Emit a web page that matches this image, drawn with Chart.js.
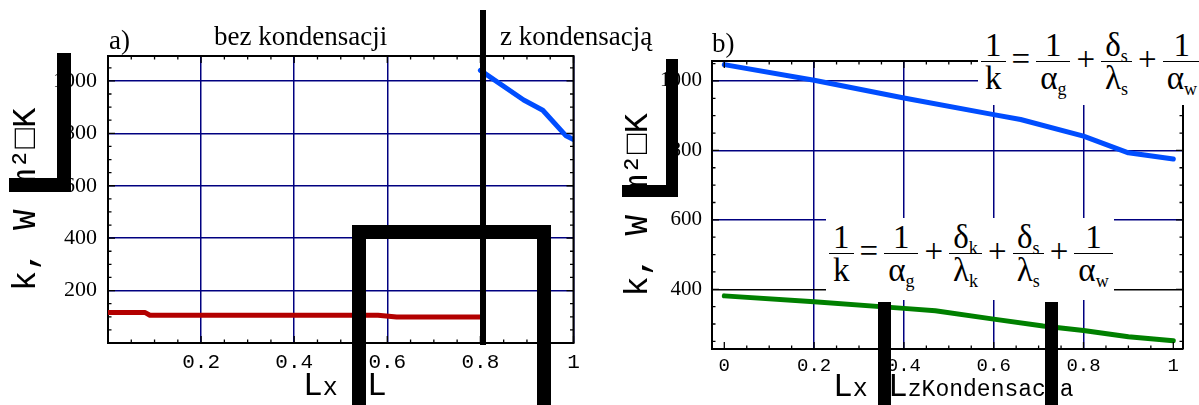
<!DOCTYPE html>
<html>
<head>
<meta charset="utf-8">
<script src="https://cdn.jsdelivr.net/npm/chart.js@4"></script>
<style>
  body { margin: 0; background: #fff; }
  #page { position: relative; width: 1199px; height: 405px; overflow: hidden; background: #fff; }
  canvas { position: absolute; top: 0; }
  .txt { position: absolute; white-space: nowrap; color: #000; line-height: normal; }
  .serif { font-family: 'Liberation Serif', serif; }
  .mono { font-family: 'Liberation Mono', monospace; }
  .blk { position: absolute; background: #000; }
  .formula { position: absolute; background: #fff; display: flex; align-items: flex-start;
             font-family: 'Liberation Serif', serif; font-size: 33px; color: #000; box-sizing: border-box; }
  .frac { display: inline-flex; flex-direction: column; text-align: center; }
  .frac span { display: block; line-height: 32px; padding: 0 4px; }
  .frac span:first-child { border-bottom: 1.5px solid #000; }
  .op { line-height: 60px; padding: 0 6px; }
  .formula sub { font-size: 18px; position: relative; top: 6px; vertical-align: baseline; line-height: 0; }
</style>
</head>
<body>
<div id="page">
  <canvas id="chartA" width="600" height="405" style="left:0"></canvas>
  <canvas id="chartB" width="599" height="405" style="left:600px"></canvas>

  <div class="txt serif" style="left:109px; top:25px; font-size:27px">a)</div>
  <div class="txt serif" style="left:214px; top:21px; font-size:27px">bez kondensacji</div>
  <div class="txt serif" style="left:500px; top:21px; font-size:27px">z kondensacją</div>
  <div class="txt serif" style="left:712px; top:28px; font-size:27px">b)</div>

  <div class="txt mono" style="left:303px; top:368px; font-size:33px">L<span style="font-size:25px">x</span></div>
  <div class="txt mono" style="left:367px; top:368px; font-size:33px">L</div>
  <div class="txt mono" style="left:833px; top:369px; font-size:33px">L<span style="font-size:25px">x</span></div>
  <div class="txt mono" style="left:888px; top:369px; font-size:33px">L<span style="font-size:23px">zKondensacja</span></div>

  <div class="formula" style="left:978px; top:15px; width:221px; height:90px; padding:14px 0 0 3px">
    <span class="frac"><span>1</span><span>k</span></span>
    <span class="op">=</span>
    <span class="frac"><span>1</span><span>α<sub>g</sub></span></span>
    <span class="op">+</span>
    <span class="frac"><span>δ<sub>s</sub></span><span>λ<sub>s</sub></span></span>
    <span class="op">+</span>
    <span class="frac"><span>1</span><span>α<sub>w</sub></span></span>
  </div>
  <div class="formula" style="left:826px; top:218px; width:288px; height:82px; padding:3px 0 0 3px">
    <span class="frac"><span>1</span><span>k</span></span>
    <span class="op">=</span>
    <span class="frac"><span>1</span><span>α<sub>g</sub></span></span>
    <span class="op">+</span>
    <span class="frac"><span>δ<sub>k</sub></span><span>λ<sub>k</sub></span></span>
    <span class="op">+</span>
    <span class="frac"><span>δ<sub>s</sub></span><span>λ<sub>s</sub></span></span>
    <span class="op">+</span>
    <span class="frac"><span>1</span><span>α<sub>w</sub></span></span>
  </div>

  <!-- heavy black strokes over the left panel -->
  <div class="blk" style="left:480px; top:10px; width:6px; height:335px"></div>
  <div class="blk" style="left:57px; top:53px; width:14px; height:139px"></div>
  <div class="blk" style="left:9px; top:178px; width:62px; height:14px"></div>
  <div class="blk" style="left:352px; top:225px; width:199px; height:14px"></div>
  <div class="blk" style="left:352px; top:225px; width:14px; height:180px"></div>
  <div class="blk" style="left:537px; top:225px; width:14px; height:180px"></div>
  <!-- and over the right panel -->
  <div class="blk" style="left:666px; top:59px; width:12px; height:138px"></div>
  <div class="blk" style="left:622px; top:185px; width:56px; height:12px"></div>
  <div class="blk" style="left:878px; top:302px; width:13px; height:103px"></div>
  <div class="blk" style="left:1045px; top:302px; width:13px; height:103px"></div>
</div>

<script>
// a) k along the wall, dry part (0..0.8) and condensing part (0.8..1)
const dryX = [0, 0.08, 0.09, 0.58, 0.62, 0.8];
const dryK = [116, 116, 106, 106, 99, 99];
const wetX = [0.8, 0.893, 0.934, 0.983, 1.0];
const wetK = [1040, 927, 888, 792, 776];

// b) condensing part stretched over 0..1, without and with the condensate film
const condX = [0, 0.2, 0.4, 0.6, 0.66, 0.8, 0.9, 1.0];
const condK = [1047, 1002, 951, 903, 889, 841, 793, 775];
const filmX = [0, 0.2, 0.4, 0.47, 0.6, 0.71, 0.8, 0.9, 1.0];
const filmK = [381, 364, 345, 338, 314, 294, 281, 263, 252];

// tick labels
const ticksXA = [0.2, 0.4, 0.6, 0.8, 1];
const ticksYA = [200, 400, 600, 800, 1000];
const ticksXB = [0, 0.2, 0.4, 0.6, 0.8, 1];
const ticksYB = [400, 600, 800, 1000];

const NAVY = '#000080';
const yTitle = 'k, W m²□K';

function pts(xs, ys) {
  return xs.map((x, i) => ({ x: x, y: ys[i] }));
}

// frame on top/right plus inward major and minor ticks on all four sides
const frameTicks = {
  id: 'frameTicks',
  afterDatasetsDraw(chart, args, opts) {
    const { ctx, chartArea: a, scales: { x, y } } = chart;
    ctx.save();
    ctx.strokeStyle = '#000';
    ctx.lineWidth = 2;
    ctx.beginPath();
    ctx.moveTo(a.left, a.top);
    ctx.lineTo(a.right, a.top);
    ctx.lineTo(a.right, a.bottom);
    ctx.stroke();

    ctx.lineWidth = 1.3;
    ctx.beginPath();
    const markX = (v, len) => {
      const p = x.getPixelForValue(v);
      ctx.moveTo(p, a.bottom); ctx.lineTo(p, a.bottom - len);
      ctx.moveTo(p, a.top); ctx.lineTo(p, a.top + len);
    };
    const markY = (v, len) => {
      const p = y.getPixelForValue(v);
      ctx.moveTo(a.left, p); ctx.lineTo(a.left + len, p);
      ctx.moveTo(a.right, p); ctx.lineTo(a.right - len, p);
    };
    for (let i = Math.ceil(x.min / opts.xStep); i * opts.xStep <= x.max + 1e-9; i++) markX(i * opts.xStep, 3.5);
    for (let i = Math.ceil(y.min / opts.yStep); i * opts.yStep <= y.max + 1e-9; i++) markY(i * opts.yStep, 3.5);
    x.ticks.forEach(t => markX(t.value, 7));
    y.ticks.forEach(t => markY(t.value, 7));
    ctx.stroke();
    ctx.restore();
  }
};

function makeChart(id, cfg) {
  return new Chart(document.getElementById(id), {
    type: 'line',
    data: { datasets: cfg.datasets },
    plugins: [frameTicks],
    options: {
      responsive: false,
      animation: false,
      devicePixelRatio: 1,
      layout: { padding: cfg.padding },
      elements: {
        point: { radius: 0 },
        line: { borderWidth: 5, tension: 0, borderCapStyle: 'round', borderJoinStyle: 'round' }
      },
      plugins: {
        legend: { display: false },
        tooltip: { enabled: false },
        frameTicks: { xStep: 0.05, yStep: 50 }
      },
      scales: {
        x: {
          type: 'linear',
          min: cfg.xMin, max: cfg.xMax,
          afterBuildTicks: s => { s.ticks = cfg.ticksX.map(v => ({ value: v })); },
          afterFit: s => { s.height = cfg.xHeight; },
          grid: { color: cfg.gridX, lineWidth: 1.5, drawTicks: false },
          border: { color: '#000', width: 2 },
          ticks: {
            callback: v => String(v),
            padding: cfg.xPad,
            color: '#000',
            maxRotation: 0,
            autoSkip: false,
            font: { family: 'Liberation Mono', size: cfg.xFont }
          }
        },
        y: {
          type: 'linear',
          min: cfg.yMin, max: cfg.yMax,
          afterBuildTicks: s => { s.ticks = cfg.ticksY.map(v => ({ value: v })); },
          afterFit: s => { s.width = cfg.yWidth; },
          grid: { color: cfg.gridY, lineWidth: 1.5, drawTicks: false },
          border: { color: '#000', width: 2 },
          ticks: {
            callback: v => String(v),
            padding: cfg.yPad,
            color: '#000',
            autoSkip: false,
            font: { family: 'Liberation Serif', size: cfg.yFont }
          },
          title: {
            display: true,
            text: yTitle,
            color: '#000',
            font: { family: 'Liberation Mono', size: 34 },
            padding: { top: cfg.titlePad, bottom: 0 }
          }
        }
      }
    }
  });
}

makeChart('chartA', {
  datasets: [
    { data: pts(dryX, dryK), borderColor: '#b30000' },
    { data: pts(wetX, wetK), borderColor: '#004dff' }
  ],
  padding: { left: 0, top: 56, right: 26.5, bottom: 0 },
  xMin: 0, xMax: 1, yMin: 0, yMax: 1095,
  ticksX: ticksXA, ticksY: ticksYA,
  xHeight: 62, yWidth: 108,
  xPad: 7, yPad: 11, xFont: 21, yFont: 22, titlePad: 6,
  gridX: NAVY,
  gridY: NAVY
});

makeChart('chartB', {
  datasets: [
    { data: pts(condX, condK), borderColor: '#004dff' },
    { data: pts(filmX, filmK), borderColor: '#008000' }
  ],
  padding: { left: 0, top: 61, right: 16, bottom: 0 },
  xMin: -0.0274, xMax: 1.0216, yMin: 228, yMax: 1057.5,
  ticksX: ticksXB, ticksY: ticksYB,
  xHeight: 56, yWidth: 112,
  xPad: 6, yPad: 10, xFont: 19, yFont: 21, titlePad: 18,
  gridX: c => (c.tick && c.tick.value > 0 && c.tick.value < 1) ? NAVY : 'rgba(0,0,0,0)',
  gridY: c => (c.tick && c.tick.value === 400) ? '#000' : NAVY
});
</script>
</body>
</html>
